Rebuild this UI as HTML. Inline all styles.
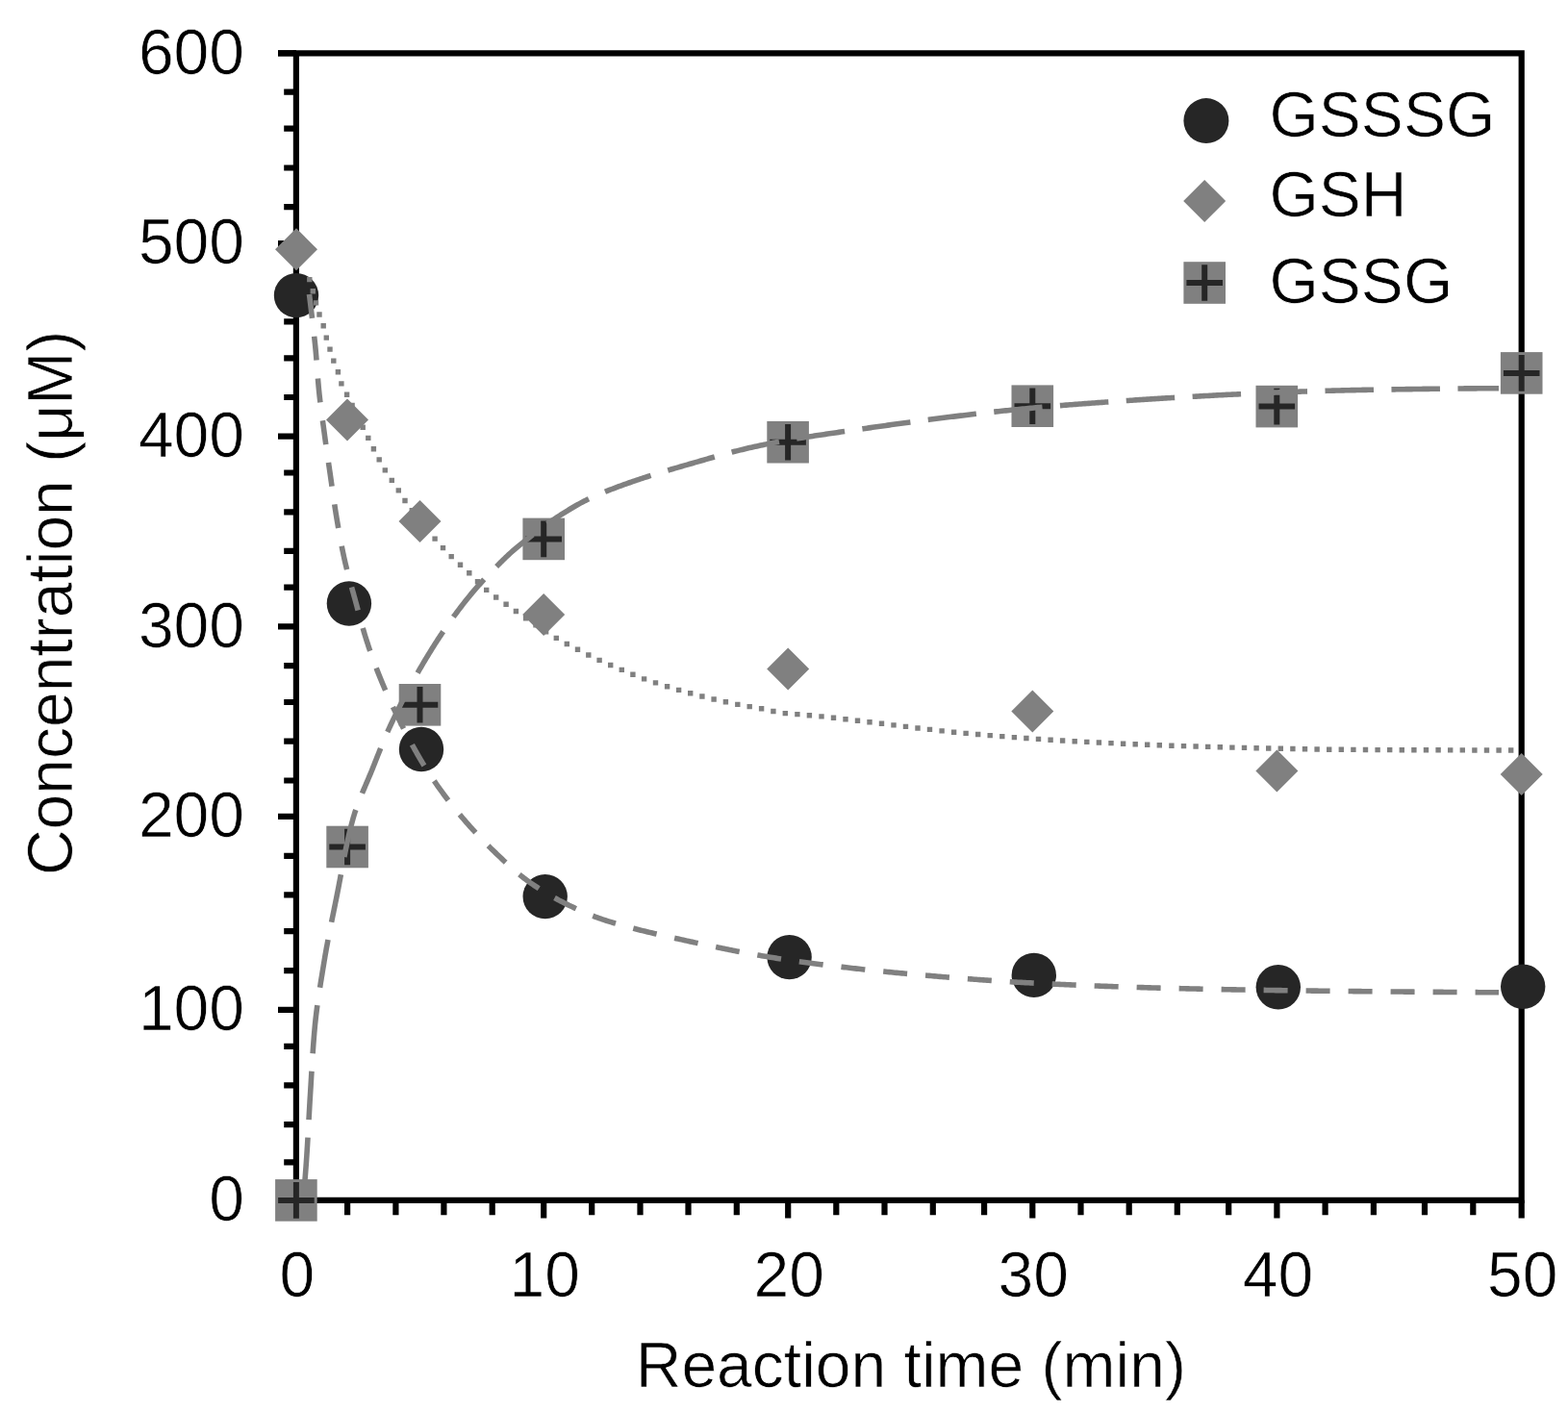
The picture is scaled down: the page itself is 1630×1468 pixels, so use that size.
<!DOCTYPE html>
<html><head><meta charset="utf-8"><title>Chart</title>
<style>html,body{margin:0;padding:0;background:#fff;width:1630px;height:1468px;overflow:hidden}svg{display:block}</style>
</head><body>
<svg width="1630" height="1468" viewBox="0 0 1630 1468">
<rect width="100%" height="100%" fill="#fff"/>
<path d="M289.0 55.3H307.9 M295.2 95.6H307.9 M295.2 133.6H307.9 M295.2 174.5H307.9 M295.2 215.1H307.9 M289.0 253.2H307.9 M295.2 293.8H307.9 M295.2 334.4H307.9 M295.2 372.3H307.9 M295.2 413.0H307.9 M289.0 453.6H307.9 M295.2 491.5H307.9 M295.2 532.3H307.9 M295.2 572.8H307.9 M295.2 610.6H307.9 M289.0 651.3H307.9 M295.2 692.1H307.9 M295.2 730.0H307.9 M295.2 770.6H307.9 M295.2 811.5H307.9 M289.0 848.9H307.9 M295.2 889.8H307.9 M295.2 930.4H307.9 M295.2 968.2H307.9 M295.2 1009.1H307.9 M289.0 1049.8H307.9 M295.2 1087.8H307.9 M295.2 1128.3H307.9 M295.2 1169.1H307.9 M295.2 1208.4H307.9 M289.0 1247.8H307.9 M307.9 1247.8V1266.4 M565.2 1247.8V1266.4 M819.2 1247.8V1266.4 M1073.3 1247.8V1266.4 M1327.4 1247.8V1266.4 M1581.7 1247.8V1266.4 M361.1 1247.8V1263.2 M411.4 1247.8V1263.2 M461.4 1247.8V1263.2 M511.7 1247.8V1263.2 M615.2 1247.8V1263.2 M665.5 1247.8V1263.2 M715.5 1247.8V1263.2 M765.8 1247.8V1263.2 M869.3 1247.8V1263.2 M919.5 1247.8V1263.2 M969.8 1247.8V1263.2 M1023.1 1247.8V1263.2 M1123.5 1247.8V1263.2 M1173.7 1247.8V1263.2 M1223.8 1247.8V1263.2 M1277.2 1247.8V1263.2 M1377.6 1247.8V1263.2 M1427.9 1247.8V1263.2 M1481 1247.8V1263.2 M1531.3 1247.8V1263.2" stroke="#000" stroke-width="6.2" fill="none" stroke-linecap="butt"/>
<path d="M307.9 1247.8V55.3H1581.7V1247.8Z" stroke="#000" stroke-width="6.2" fill="none" stroke-linejoin="miter"/>
<path d="M289 55.3H307.9" stroke="#000" stroke-width="6.2"/>
<g><circle cx="308" cy="307.1" r="23.2" fill="#262626"/><circle cx="362.9" cy="627.5" r="23.2" fill="#262626"/><circle cx="438" cy="779" r="23.2" fill="#262626"/><circle cx="566.7" cy="932.1" r="23.2" fill="#262626"/><circle cx="820.6" cy="995.1" r="23.2" fill="#262626"/><circle cx="1074.8" cy="1013.9" r="23.2" fill="#262626"/><circle cx="1328.8" cy="1026.3" r="23.2" fill="#262626"/><circle cx="1583.2" cy="1025.8" r="23.2" fill="#262626"/><path d="M308 237.3L330 259.3L308 281.3L286 259.3Z" fill="#808080"/><path d="M361 414.5L383 436.5L361 458.5L339 436.5Z" fill="#808080"/><path d="M436.5 520L458.5 542L436.5 564L414.5 542Z" fill="#808080"/><path d="M565.2 617L587.2 639L565.2 661L543.2 639Z" fill="#808080"/><path d="M819.2 673.5L841.2 695.5L819.2 717.5L797.2 695.5Z" fill="#808080"/><path d="M1073.3 717.4L1095.3 739.4L1073.3 761.4L1051.3 739.4Z" fill="#808080"/><path d="M1327.4 779.4L1349.4 801.4L1327.4 823.4L1305.4 801.4Z" fill="#808080"/><path d="M1581.7 783L1603.7 805L1581.7 827L1559.7 805Z" fill="#808080"/><rect x="286.1" y="1226.1" width="43.6" height="43.6" fill="#808080"/><path d="M289.1 1247.9H326.7M307.9 1229.1V1266.7" stroke="#262626" stroke-width="6"/><rect x="339.3" y="858.7" width="43.6" height="43.6" fill="#808080"/><path d="M342.3 880.5H379.9M361.1 861.7V899.3" stroke="#262626" stroke-width="6"/><rect x="414.7" y="711.0" width="43.6" height="43.6" fill="#808080"/><path d="M417.7 732.8H455.3M436.5 714.0V751.6" stroke="#262626" stroke-width="6"/><rect x="543.4" y="538.6" width="43.6" height="43.6" fill="#808080"/><path d="M546.4 560.4H584.0M565.2 541.6V579.2" stroke="#262626" stroke-width="6"/><rect x="797.3" y="437.9" width="43.6" height="43.6" fill="#808080"/><path d="M800.3 459.7H837.9M819.1 440.9V478.5" stroke="#262626" stroke-width="6"/><rect x="1051.5" y="400.4" width="43.6" height="43.6" fill="#808080"/><path d="M1054.5 422.2H1092.1M1073.3 403.4V441.0" stroke="#262626" stroke-width="6"/><rect x="1305.5" y="400.8" width="43.6" height="43.6" fill="#808080"/><path d="M1308.5 422.6H1346.1M1327.3 403.8V441.4" stroke="#262626" stroke-width="6"/><rect x="1559.9" y="366.1" width="43.6" height="43.6" fill="#808080"/><path d="M1562.9 387.9H1600.5M1581.7 369.1V406.7" stroke="#262626" stroke-width="6"/></g>
<path d="M321.50 306.00 L321.73 307.87 L321.96 309.75 L322.19 311.62 L322.42 313.49 L322.65 315.36 L322.87 317.24 L323.10 319.11 L323.32 320.99 L323.55 322.86 L323.77 324.73 L323.99 326.61 L324.21 328.48 L324.43 330.36 L324.64 332.23 L324.86 334.10 L325.08 335.98 L325.30 337.85 L325.52 339.73 L325.74 341.60 L325.95 343.48 L326.17 345.35 L326.38 347.23 L326.60 349.10 L326.81 350.98 L327.01 352.85 L327.21 354.73 L327.41 356.60 L327.60 358.48 L327.79 360.36 L327.97 362.24 L328.15 364.12 L328.32 366.00 L328.49 367.88 L328.64 369.76 L328.80 371.64 L328.95 373.52 L329.10 375.40 L329.24 377.28 L329.38 379.16 L329.52 381.04 L329.66 382.93 L329.80 384.81 L329.94 386.69 L330.08 388.57 L330.23 390.45 L330.37 392.33 L330.52 394.21 L330.67 396.10 L330.83 397.98 L330.99 399.86 L331.16 401.74 L331.33 403.61 L331.51 405.49 L331.70 407.37 L331.89 409.25 L332.09 411.12 L332.30 413.00 L332.52 414.87 L332.73 416.75 L332.96 418.62 L333.19 420.49 L333.42 422.37 L333.66 424.24 L333.90 426.11 L334.15 427.98 L334.40 429.85 L334.65 431.72 L334.90 433.59 L335.15 435.46 L335.41 437.33 L335.66 439.20 L335.92 441.07 L336.17 442.94 L336.43 444.81 L336.68 446.68 L336.94 448.55 L337.19 450.42 L337.44 452.29 L337.70 454.16 L337.95 456.03 L338.21 457.90 L338.47 459.77 L338.73 461.64 L338.99 463.51 L339.26 465.37 L339.52 467.24 L339.79 469.11 L340.05 470.98 L340.32 472.85 L340.59 474.71 L340.86 476.58 L341.13 478.45 L341.40 480.32 L341.67 482.18 L341.94 484.05 L342.22 485.92 L342.49 487.79 L342.76 489.65 L343.03 491.52 L343.30 493.39 L343.57 495.26 L343.84 497.12 L344.10 498.99 L344.37 500.86 L344.63 502.73 L344.89 504.60 L345.16 506.47 L345.42 508.33 L345.69 510.20 L345.95 512.07 L346.22 513.94 L346.49 515.81 L346.76 517.68 L347.03 519.54 L347.30 521.41 L347.58 523.28 L347.86 525.14 L348.14 527.01 L348.42 528.87 L348.71 530.74 L349.01 532.60 L349.30 534.47 L349.61 536.33 L349.91 538.19 L350.22 540.05 L350.53 541.91 L350.85 543.77 L351.16 545.63 L351.48 547.49 L351.80 549.35 L352.13 551.21 L352.46 553.07 L352.79 554.93 L353.13 556.78 L353.47 558.64 L353.81 560.50 L354.16 562.35 L354.51 564.20 L354.87 566.06 L355.24 567.91 L355.60 569.76 L355.98 571.61 L356.36 573.46 L356.74 575.30 L357.13 577.15 L357.53 579.00 L357.93 580.84 L358.34 582.68 L358.77 584.52 L359.20 586.36 L359.64 588.19 L360.09 590.02 L360.55 591.85 L361.01 593.68 L361.49 595.51 L361.97 597.33 L362.45 599.16 L362.94 600.98 L363.43 602.80 L363.93 604.62 L364.43 606.44 L364.93 608.26 L365.43 610.08 L365.94 611.90 L366.45 613.71 L366.96 615.53 L367.46 617.35 L367.97 619.17 L368.47 620.99 L368.98 622.80 L369.48 624.62 L369.98 626.44 L370.47 628.27 L370.96 630.09 L371.45 631.91 L371.94 633.73 L372.43 635.55 L372.92 637.38 L373.41 639.20 L373.90 641.02 L374.39 642.84 L374.89 644.66 L375.38 646.48 L375.89 648.30 L376.39 650.12 L376.90 651.94 L377.42 653.75 L377.95 655.56 L378.48 657.37 L379.02 659.18 L379.56 660.99 L380.12 662.79 L380.69 664.59 L381.26 666.39 L381.84 668.19 L382.43 669.98 L383.02 671.77 L383.62 673.56 L384.22 675.35 L384.83 677.13 L385.45 678.92 L386.07 680.70 L386.70 682.48 L387.34 684.25 L387.98 686.03 L388.63 687.80 L389.29 689.57 L389.95 691.34 L390.61 693.10 L391.29 694.86 L391.97 696.62 L392.66 698.38 L393.35 700.14 L394.05 701.89 L394.76 703.64 L395.47 705.38 L396.19 707.13 L396.91 708.87 L397.64 710.61 L398.38 712.35 L399.12 714.09 L399.86 715.82 L400.61 717.55 L401.37 719.28 L402.13 721.01 L402.89 722.73 L403.66 724.46 L404.43 726.18 L405.21 727.90 L406.00 729.61 L406.79 731.33 L407.58 733.04 L408.38 734.75 L409.18 736.46 L409.99 738.16 L410.80 739.87 L411.62 741.57 L412.44 743.27 L413.26 744.96 L414.09 746.66 L414.93 748.35 L415.77 750.04 L416.61 751.73 L417.46 753.41 L418.32 755.09 L419.17 756.78 L420.04 758.45 L420.90 760.13 L421.77 761.80 L422.65 763.48 L423.53 765.14 L424.41 766.81 L425.30 768.48 L426.19 770.14 L427.09 771.80 L427.99 773.46 L428.90 775.11 L429.81 776.76 L430.72 778.42 L431.64 780.06 L432.57 781.71 L433.49 783.35 L434.43 784.99 L435.36 786.63 L436.31 788.26 L437.26 789.89 L438.23 791.51 L439.20 793.13 L440.18 794.74 L441.17 796.35 L442.17 797.95 L443.18 799.54 L444.20 801.13 L445.22 802.72 L446.25 804.30 L447.29 805.88 L448.33 807.45 L449.39 809.01 L450.44 810.58 L451.51 812.13 L452.58 813.69 L453.66 815.24 L454.74 816.78 L455.83 818.32 L456.92 819.86 L458.02 821.39 L459.13 822.92 L460.24 824.45 L461.36 825.96 L462.49 827.48 L463.63 828.98 L464.77 830.49 L465.92 831.98 L467.07 833.48 L468.23 834.96 L469.40 836.45 L470.58 837.92 L471.76 839.39 L472.94 840.86 L474.13 842.33 L475.33 843.78 L476.53 845.24 L477.74 846.69 L478.96 848.13 L480.18 849.57 L481.40 851.01 L482.63 852.44 L483.86 853.87 L485.10 855.29 L486.35 856.71 L487.60 858.12 L488.85 859.53 L490.11 860.93 L491.38 862.33 L492.65 863.73 L493.93 865.12 L495.21 866.50 L496.50 867.88 L497.80 869.25 L499.10 870.62 L500.40 871.98 L501.71 873.34 L503.03 874.69 L504.35 876.04 L505.67 877.38 L507.00 878.72 L508.34 880.05 L509.68 881.38 L511.03 882.70 L512.38 884.02 L513.73 885.33 L515.10 886.64 L516.46 887.94 L517.83 889.24 L519.20 890.54 L520.57 891.84 L521.94 893.13 L523.32 894.43 L524.69 895.71 L526.08 897.00 L527.46 898.28 L528.86 899.55 L530.25 900.82 L531.66 902.08 L533.07 903.33 L534.49 904.57 L535.92 905.80 L537.36 907.03 L538.81 908.24 L540.26 909.44 L541.73 910.62 L543.21 911.79 L544.70 912.95 L546.21 914.09 L547.72 915.21 L549.25 916.31 L550.79 917.41 L552.34 918.49 L553.89 919.56 L555.45 920.62 L557.02 921.66 L558.60 922.70 L560.18 923.73 L561.77 924.74 L563.37 925.75 L564.98 926.74 L566.59 927.72 L568.20 928.70 L569.83 929.66 L571.46 930.61 L573.09 931.55 L574.73 932.48 L576.38 933.40 L578.04 934.31 L579.70 935.21 L581.36 936.10 L583.03 936.97 L584.71 937.84 L586.39 938.69 L588.08 939.54 L589.77 940.38 L591.46 941.21 L593.16 942.03 L594.86 942.85 L596.57 943.65 L598.28 944.45 L599.99 945.24 L601.71 946.03 L603.43 946.80 L605.16 947.56 L606.89 948.31 L608.62 949.06 L610.36 949.79 L612.10 950.51 L613.85 951.21 L615.61 951.91 L617.37 952.59 L619.13 953.27 L620.90 953.92 L622.67 954.57 L624.45 955.20 L626.24 955.81 L628.03 956.41 L629.82 956.99 L631.62 957.57 L633.41 958.14 L635.22 958.70 L637.02 959.25 L638.83 959.80 L640.64 960.33 L642.45 960.86 L644.26 961.39 L646.08 961.90 L647.89 962.41 L649.71 962.91 L651.53 963.41 L653.36 963.89 L655.18 964.38 L657.01 964.86 L658.83 965.33 L660.66 965.80 L662.49 966.26 L664.32 966.72 L666.15 967.17 L667.99 967.62 L669.82 968.06 L671.65 968.50 L673.49 968.94 L675.33 969.38 L677.16 969.81 L679.00 970.24 L680.84 970.66 L682.68 971.09 L684.52 971.51 L686.36 971.93 L688.20 972.35 L690.04 972.76 L691.88 973.18 L693.72 973.59 L695.56 974.01 L697.40 974.42 L699.24 974.83 L701.08 975.24 L702.93 975.65 L704.77 976.07 L706.61 976.48 L708.45 976.88 L710.29 977.29 L712.14 977.70 L713.98 978.11 L715.82 978.51 L717.67 978.92 L719.51 979.32 L721.35 979.72 L723.20 980.12 L725.04 980.52 L726.88 980.92 L728.73 981.32 L730.57 981.71 L732.42 982.11 L734.27 982.50 L736.11 982.89 L737.96 983.28 L739.81 983.67 L741.65 984.05 L743.50 984.44 L745.35 984.82 L747.20 985.20 L749.04 985.58 L750.89 985.96 L752.74 986.33 L754.59 986.70 L756.44 987.07 L758.29 987.44 L760.14 987.81 L762.00 988.17 L763.85 988.54 L765.70 988.90 L767.55 989.25 L769.41 989.61 L771.26 989.96 L773.11 990.31 L774.97 990.66 L776.82 991.00 L778.68 991.34 L780.54 991.68 L782.39 992.02 L784.25 992.35 L786.11 992.68 L787.97 993.01 L789.83 993.34 L791.68 993.66 L793.54 993.98 L795.40 994.29 L797.27 994.61 L799.13 994.92 L800.99 995.22 L802.85 995.53 L804.71 995.82 L806.58 996.12 L808.44 996.41 L810.31 996.70 L812.17 996.99 L814.04 997.27 L815.90 997.55 L817.77 997.82 L819.64 998.09 L821.51 998.36 L823.38 998.63 L825.24 998.89 L827.11 999.16 L828.98 999.42 L830.85 999.68 L832.72 999.93 L834.59 1000.19 L836.46 1000.44 L838.33 1000.70 L840.20 1000.95 L842.07 1001.20 L843.94 1001.44 L845.81 1001.69 L847.68 1001.93 L849.55 1002.18 L851.43 1002.42 L853.30 1002.66 L855.17 1002.89 L857.04 1003.13 L858.91 1003.36 L860.79 1003.60 L862.66 1003.83 L864.53 1004.06 L866.41 1004.28 L868.28 1004.51 L870.15 1004.74 L872.03 1004.96 L873.90 1005.18 L875.77 1005.40 L877.65 1005.62 L879.52 1005.84 L881.40 1006.05 L883.27 1006.27 L885.15 1006.48 L887.02 1006.69 L888.90 1006.90 L890.77 1007.11 L892.65 1007.32 L894.52 1007.52 L896.40 1007.73 L898.28 1007.93 L900.15 1008.13 L902.03 1008.33 L903.91 1008.53 L905.78 1008.73 L907.66 1008.92 L909.54 1009.12 L911.41 1009.31 L913.29 1009.50 L915.17 1009.69 L917.04 1009.88 L918.92 1010.07 L920.80 1010.26 L922.68 1010.44 L924.56 1010.62 L926.43 1010.81 L928.31 1010.99 L930.19 1011.17 L932.07 1011.35 L933.95 1011.53 L935.83 1011.70 L937.71 1011.88 L939.58 1012.05 L941.46 1012.23 L943.34 1012.40 L945.22 1012.57 L947.10 1012.74 L948.98 1012.91 L950.86 1013.08 L952.74 1013.24 L954.62 1013.41 L956.50 1013.58 L958.38 1013.74 L960.26 1013.91 L962.14 1014.07 L964.02 1014.23 L965.90 1014.39 L967.78 1014.56 L969.66 1014.72 L971.54 1014.88 L973.42 1015.04 L975.30 1015.20 L977.18 1015.35 L979.06 1015.51 L980.94 1015.67 L982.82 1015.82 L984.70 1015.98 L986.58 1016.13 L988.46 1016.28 L990.34 1016.44 L992.22 1016.59 L994.11 1016.74 L995.99 1016.89 L997.87 1017.04 L999.75 1017.18 L1001.63 1017.33 L1003.51 1017.48 L1005.39 1017.62 L1007.28 1017.76 L1009.16 1017.91 L1011.04 1018.05 L1012.92 1018.19 L1014.80 1018.33 L1016.68 1018.46 L1018.57 1018.60 L1020.45 1018.74 L1022.33 1018.87 L1024.21 1019.00 L1026.09 1019.14 L1027.98 1019.27 L1029.86 1019.40 L1031.74 1019.53 L1033.63 1019.65 L1035.51 1019.78 L1037.39 1019.90 L1039.27 1020.03 L1041.16 1020.15 L1043.04 1020.27 L1044.92 1020.39 L1046.81 1020.51 L1048.69 1020.63 L1050.57 1020.74 L1052.46 1020.85 L1054.34 1020.97 L1056.22 1021.08 L1058.11 1021.19 L1059.99 1021.30 L1061.88 1021.40 L1063.76 1021.51 L1065.64 1021.61 L1067.53 1021.71 L1069.41 1021.81 L1071.30 1021.91 L1073.18 1022.01 L1075.07 1022.11 L1076.95 1022.20 L1078.84 1022.30 L1080.72 1022.39 L1082.60 1022.48 L1084.49 1022.58 L1086.37 1022.67 L1088.26 1022.76 L1090.14 1022.85 L1092.03 1022.94 L1093.91 1023.03 L1095.80 1023.12 L1097.68 1023.21 L1099.57 1023.30 L1101.45 1023.39 L1103.34 1023.47 L1105.22 1023.56 L1107.11 1023.64 L1108.99 1023.73 L1110.88 1023.81 L1112.76 1023.90 L1114.65 1023.98 L1116.53 1024.06 L1118.42 1024.14 L1120.30 1024.22 L1122.19 1024.30 L1124.08 1024.38 L1125.96 1024.46 L1127.85 1024.54 L1129.73 1024.61 L1131.62 1024.69 L1133.50 1024.77 L1135.39 1024.84 L1137.27 1024.92 L1139.16 1024.99 L1141.04 1025.06 L1142.93 1025.14 L1144.82 1025.21 L1146.70 1025.28 L1148.59 1025.35 L1150.47 1025.42 L1152.36 1025.49 L1154.24 1025.56 L1156.13 1025.62 L1158.02 1025.69 L1159.90 1025.76 L1161.79 1025.82 L1163.67 1025.89 L1165.56 1025.95 L1167.45 1026.02 L1169.33 1026.08 L1171.22 1026.14 L1173.10 1026.20 L1174.99 1026.26 L1176.88 1026.32 L1178.76 1026.38 L1180.65 1026.44 L1182.53 1026.50 L1184.42 1026.56 L1186.31 1026.61 L1188.19 1026.67 L1190.08 1026.72 L1191.96 1026.78 L1193.85 1026.83 L1195.74 1026.88 L1197.62 1026.94 L1199.51 1026.99 L1201.40 1027.04 L1203.28 1027.09 L1205.17 1027.14 L1207.05 1027.19 L1208.94 1027.24 L1210.83 1027.29 L1212.71 1027.33 L1214.60 1027.38 L1216.49 1027.43 L1218.37 1027.48 L1220.26 1027.52 L1222.15 1027.57 L1224.03 1027.62 L1225.92 1027.66 L1227.81 1027.71 L1229.69 1027.75 L1231.58 1027.80 L1233.46 1027.84 L1235.35 1027.88 L1237.24 1027.93 L1239.12 1027.97 L1241.01 1028.01 L1242.90 1028.06 L1244.78 1028.10 L1246.67 1028.14 L1248.56 1028.18 L1250.44 1028.22 L1252.33 1028.26 L1254.22 1028.30 L1256.10 1028.34 L1257.99 1028.38 L1259.88 1028.42 L1261.76 1028.46 L1263.65 1028.50 L1265.54 1028.54 L1267.42 1028.57 L1269.31 1028.61 L1271.20 1028.65 L1273.08 1028.69 L1274.97 1028.72 L1276.86 1028.76 L1278.74 1028.79 L1280.63 1028.83 L1282.52 1028.86 L1284.40 1028.90 L1286.29 1028.93 L1288.18 1028.97 L1290.06 1029.00 L1291.95 1029.04 L1293.84 1029.07 L1295.72 1029.10 L1297.61 1029.13 L1299.50 1029.17 L1301.38 1029.20 L1303.27 1029.23 L1305.16 1029.26 L1307.04 1029.29 L1308.93 1029.32 L1310.82 1029.35 L1312.70 1029.38 L1314.59 1029.41 L1316.48 1029.44 L1318.36 1029.47 L1320.25 1029.50 L1322.14 1029.53 L1324.02 1029.56 L1325.91 1029.58 L1327.80 1029.61 L1329.68 1029.64 L1331.57 1029.67 L1333.46 1029.69 L1335.34 1029.72 L1337.23 1029.75 L1339.12 1029.77 L1341.01 1029.80 L1342.89 1029.82 L1344.78 1029.85 L1346.67 1029.88 L1348.55 1029.90 L1350.44 1029.93 L1352.33 1029.95 L1354.21 1029.97 L1356.10 1030.00 L1357.99 1030.02 L1359.87 1030.05 L1361.76 1030.07 L1363.65 1030.09 L1365.53 1030.12 L1367.42 1030.14 L1369.31 1030.16 L1371.19 1030.19 L1373.08 1030.21 L1374.97 1030.23 L1376.86 1030.25 L1378.74 1030.28 L1380.63 1030.30 L1382.52 1030.32 L1384.40 1030.34 L1386.29 1030.36 L1388.18 1030.38 L1390.06 1030.40 L1391.95 1030.43 L1393.84 1030.45 L1395.72 1030.47 L1397.61 1030.49 L1399.50 1030.51 L1401.38 1030.53 L1403.27 1030.55 L1405.16 1030.57 L1407.05 1030.59 L1408.93 1030.61 L1410.82 1030.63 L1412.71 1030.65 L1414.59 1030.66 L1416.48 1030.68 L1418.37 1030.70 L1420.25 1030.72 L1422.14 1030.74 L1424.03 1030.76 L1425.91 1030.78 L1427.80 1030.79 L1429.69 1030.81 L1431.58 1030.83 L1433.46 1030.85 L1435.35 1030.87 L1437.24 1030.88 L1439.12 1030.90 L1441.01 1030.92 L1442.90 1030.94 L1444.78 1030.95 L1446.67 1030.97 L1448.56 1030.99 L1450.44 1031.00 L1452.33 1031.02 L1454.22 1031.04 L1456.10 1031.05 L1457.99 1031.07 L1459.88 1031.09 L1461.77 1031.10 L1463.65 1031.12 L1465.54 1031.14 L1467.43 1031.15 L1469.31 1031.17 L1471.20 1031.18 L1473.09 1031.20 L1474.97 1031.22 L1476.86 1031.23 L1478.75 1031.25 L1480.64 1031.26 L1482.52 1031.28 L1484.41 1031.29 L1486.30 1031.31 L1488.18 1031.32 L1490.07 1031.34 L1491.96 1031.35 L1493.84 1031.37 L1495.73 1031.38 L1497.62 1031.40 L1499.50 1031.41 L1501.39 1031.43 L1503.28 1031.44 L1505.17 1031.45 L1507.05 1031.47 L1508.94 1031.48 L1510.83 1031.50 L1512.71 1031.51 L1514.60 1031.52 L1516.49 1031.54 L1518.37 1031.55 L1520.26 1031.56 L1522.15 1031.58 L1524.03 1031.59 L1525.92 1031.60 L1527.81 1031.61 L1529.70 1031.63 L1531.58 1031.64 L1533.47 1031.65 L1535.36 1031.66 L1537.24 1031.68 L1539.13 1031.69 L1541.02 1031.70 L1542.90 1031.71 L1544.79 1031.72 L1546.68 1031.73 L1548.57 1031.75 L1550.45 1031.76 L1552.34 1031.77 L1554.23 1031.78 L1556.11 1031.79 L1558.00 1031.80" stroke="#808080" stroke-width="5.6" fill="none" stroke-dasharray="25 19"/>
<path d="M319.1 287.9h5.4v5.4h-5.4zM322.6 300.0h5.4v5.4h-5.4zM325.8 312.2h5.4v5.4h-5.4zM329.3 324.3h5.4v5.4h-5.4zM333.5 336.1h5.4v5.4h-5.4zM336.6 348.4h5.4v5.4h-5.4zM340.3 360.4h5.4v5.4h-5.4zM344.1 372.4h5.4v5.4h-5.4zM348.7 384.1h5.4v5.4h-5.4zM352.2 396.2h5.4v5.4h-5.4zM357.9 407.5h5.4v5.4h-5.4zM363.4 418.8h5.4v5.4h-5.4zM368.9 430.1h5.4v5.4h-5.4zM374.5 441.5h5.4v5.4h-5.4zM380.1 452.7h5.4v5.4h-5.4zM385.7 464.0h5.4v5.4h-5.4zM391.5 475.2h5.4v5.4h-5.4zM397.6 486.2h5.4v5.4h-5.4zM404.6 496.7h5.4v5.4h-5.4zM411.6 507.2h5.4v5.4h-5.4zM418.3 517.8h5.4v5.4h-5.4zM425.6 528.1h5.4v5.4h-5.4zM433.3 538.1h5.4v5.4h-5.4zM441.3 547.8h5.4v5.4h-5.4zM449.4 557.4h5.4v5.4h-5.4zM457.8 566.9h5.4v5.4h-5.4zM466.5 575.9h5.4v5.4h-5.4zM475.8 584.5h5.4v5.4h-5.4zM485.1 593.0h5.4v5.4h-5.4zM493.8 602.1h5.4v5.4h-5.4zM503.0 610.7h5.4v5.4h-5.4zM513.0 618.3h5.4v5.4h-5.4zM523.4 625.5h5.4v5.4h-5.4zM533.7 632.8h5.4v5.4h-5.4zM543.9 640.1h5.4v5.4h-5.4zM554.3 647.2h5.4v5.4h-5.4zM564.9 654.1h5.4v5.4h-5.4zM575.6 660.7h5.4v5.4h-5.4zM586.6 666.8h5.4v5.4h-5.4zM597.8 672.6h5.4v5.4h-5.4zM609.1 678.3h5.4v5.4h-5.4zM620.4 683.7h5.4v5.4h-5.4zM632.0 688.8h5.4v5.4h-5.4zM643.6 693.7h5.4v5.4h-5.4zM655.2 698.6h5.4v5.4h-5.4zM666.9 703.2h5.4v5.4h-5.4zM678.8 707.2h5.4v5.4h-5.4zM690.9 711.0h5.4v5.4h-5.4zM702.9 714.7h5.4v5.4h-5.4zM715.0 718.1h5.4v5.4h-5.4zM727.2 721.3h5.4v5.4h-5.4zM739.4 724.3h5.4v5.4h-5.4zM751.7 727.1h5.4v5.4h-5.4zM764.1 729.7h5.4v5.4h-5.4zM776.5 731.9h5.4v5.4h-5.4zM788.9 734.1h5.4v5.4h-5.4zM801.2 736.8h5.4v5.4h-5.4zM813.6 738.9h5.4v5.4h-5.4zM826.2 739.9h5.4v5.4h-5.4zM838.7 741.0h5.4v5.4h-5.4zM851.3 742.2h5.4v5.4h-5.4zM863.8 743.6h5.4v5.4h-5.4zM876.3 745.0h5.4v5.4h-5.4zM888.8 746.5h5.4v5.4h-5.4zM901.3 748.0h5.4v5.4h-5.4zM913.8 749.6h5.4v5.4h-5.4zM926.3 751.2h5.4v5.4h-5.4zM938.8 752.7h5.4v5.4h-5.4zM951.3 754.3h5.4v5.4h-5.4zM963.8 755.7h5.4v5.4h-5.4zM976.4 757.2h5.4v5.4h-5.4zM988.9 758.5h5.4v5.4h-5.4zM1001.4 759.7h5.4v5.4h-5.4zM1014.0 760.8h5.4v5.4h-5.4zM1026.5 761.9h5.4v5.4h-5.4zM1039.1 762.9h5.4v5.4h-5.4zM1051.7 763.9h5.4v5.4h-5.4zM1064.2 764.8h5.4v5.4h-5.4zM1076.8 765.7h5.4v5.4h-5.4zM1089.4 766.5h5.4v5.4h-5.4zM1101.9 767.3h5.4v5.4h-5.4zM1114.5 768.0h5.4v5.4h-5.4zM1127.1 768.7h5.4v5.4h-5.4zM1139.7 769.3h5.4v5.4h-5.4zM1152.3 769.9h5.4v5.4h-5.4zM1164.9 770.5h5.4v5.4h-5.4zM1177.5 771.0h5.4v5.4h-5.4zM1190.0 771.6h5.4v5.4h-5.4zM1202.6 772.0h5.4v5.4h-5.4zM1215.2 772.5h5.4v5.4h-5.4zM1227.8 772.9h5.4v5.4h-5.4zM1240.4 773.3h5.4v5.4h-5.4zM1253.0 773.7h5.4v5.4h-5.4zM1265.6 774.0h5.4v5.4h-5.4zM1278.2 774.4h5.4v5.4h-5.4zM1290.8 774.7h5.4v5.4h-5.4zM1303.4 775.0h5.4v5.4h-5.4zM1316.0 775.3h5.4v5.4h-5.4zM1328.6 775.6h5.4v5.4h-5.4zM1341.2 775.8h5.4v5.4h-5.4zM1353.8 776.1h5.4v5.4h-5.4zM1366.4 776.3h5.4v5.4h-5.4zM1379.0 776.5h5.4v5.4h-5.4zM1391.6 776.6h5.4v5.4h-5.4zM1404.2 776.7h5.4v5.4h-5.4zM1416.8 776.8h5.4v5.4h-5.4zM1429.4 776.9h5.4v5.4h-5.4zM1442.0 776.9h5.4v5.4h-5.4zM1454.6 777.0h5.4v5.4h-5.4zM1467.2 777.1h5.4v5.4h-5.4zM1479.8 777.1h5.4v5.4h-5.4zM1492.4 777.1h5.4v5.4h-5.4zM1505.0 777.2h5.4v5.4h-5.4zM1517.6 777.2h5.4v5.4h-5.4zM1530.2 777.3h5.4v5.4h-5.4zM1542.8 777.3h5.4v5.4h-5.4zM1555.4 777.3h5.4v5.4h-5.4zM1568.0 777.3h5.4v5.4h-5.4z" fill="#808080"/>
<path d="M316.50 1233.00 L316.66 1231.04 L316.82 1229.08 L316.98 1227.12 L317.13 1225.16 L317.29 1223.20 L317.44 1221.24 L317.59 1219.28 L317.74 1217.32 L317.89 1215.36 L318.04 1213.40 L318.18 1211.44 L318.32 1209.48 L318.46 1207.52 L318.59 1205.55 L318.73 1203.59 L318.86 1201.63 L318.98 1199.67 L319.11 1197.71 L319.23 1195.74 L319.35 1193.78 L319.47 1191.82 L319.59 1189.86 L319.70 1187.89 L319.82 1185.93 L319.93 1183.97 L320.04 1182.01 L320.15 1180.04 L320.26 1178.08 L320.37 1176.12 L320.48 1174.15 L320.59 1172.19 L320.69 1170.23 L320.80 1168.26 L320.91 1166.30 L321.02 1164.34 L321.12 1162.37 L321.23 1160.41 L321.34 1158.45 L321.45 1156.49 L321.56 1154.52 L321.67 1152.56 L321.78 1150.60 L321.89 1148.63 L322.01 1146.67 L322.12 1144.71 L322.24 1142.75 L322.36 1140.78 L322.48 1138.82 L322.60 1136.86 L322.72 1134.90 L322.84 1132.93 L322.96 1130.97 L323.08 1129.01 L323.19 1127.05 L323.31 1125.08 L323.42 1123.12 L323.54 1121.16 L323.65 1119.19 L323.77 1117.23 L323.88 1115.27 L324.00 1113.31 L324.12 1111.34 L324.24 1109.38 L324.35 1107.42 L324.47 1105.46 L324.60 1103.49 L324.72 1101.53 L324.84 1099.57 L324.97 1097.61 L325.10 1095.65 L325.23 1093.68 L325.37 1091.72 L325.50 1089.76 L325.64 1087.80 L325.78 1085.84 L325.93 1083.88 L326.08 1081.92 L326.23 1079.96 L326.39 1078.00 L326.55 1076.04 L326.71 1074.08 L326.88 1072.12 L327.05 1070.16 L327.23 1068.20 L327.41 1066.25 L327.60 1064.29 L327.81 1062.33 L328.01 1060.38 L328.23 1058.42 L328.45 1056.47 L328.69 1054.52 L328.92 1052.57 L329.17 1050.62 L329.42 1048.67 L329.67 1046.72 L329.94 1044.77 L330.20 1042.82 L330.48 1040.87 L330.75 1038.93 L331.03 1036.98 L331.32 1035.03 L331.61 1033.09 L331.90 1031.15 L332.20 1029.20 L332.50 1027.26 L332.81 1025.32 L333.11 1023.38 L333.42 1021.43 L333.73 1019.49 L334.04 1017.55 L334.36 1015.61 L334.68 1013.67 L334.99 1011.73 L335.31 1009.79 L335.63 1007.85 L335.95 1005.91 L336.27 1003.97 L336.59 1002.03 L336.90 1000.09 L337.22 998.15 L337.55 996.21 L337.88 994.27 L338.21 992.33 L338.55 990.40 L338.89 988.46 L339.24 986.53 L339.59 984.59 L339.95 982.66 L340.31 980.72 L340.67 978.79 L341.04 976.86 L341.40 974.93 L341.78 973.00 L342.15 971.07 L342.53 969.14 L342.91 967.21 L343.29 965.28 L343.67 963.35 L344.06 961.43 L344.45 959.50 L344.83 957.57 L345.22 955.64 L345.61 953.72 L346.01 951.79 L346.40 949.86 L346.79 947.94 L347.18 946.01 L347.57 944.08 L347.97 942.16 L348.36 940.23 L348.75 938.30 L349.14 936.38 L349.53 934.45 L349.92 932.52 L350.30 930.59 L350.68 928.66 L351.06 926.73 L351.43 924.80 L351.81 922.87 L352.17 920.94 L352.54 919.01 L352.91 917.08 L353.27 915.15 L353.63 913.21 L353.99 911.28 L354.36 909.35 L354.72 907.42 L355.08 905.48 L355.44 903.55 L355.81 901.62 L356.17 899.69 L356.54 897.76 L356.91 895.82 L357.28 893.89 L357.65 891.96 L358.03 890.03 L358.41 888.11 L358.80 886.18 L359.19 884.25 L359.58 882.32 L359.98 880.40 L360.39 878.48 L360.80 876.55 L361.21 874.63 L361.64 872.71 L362.07 870.79 L362.50 868.88 L362.95 866.96 L363.40 865.05 L363.86 863.14 L364.33 861.23 L364.81 859.32 L365.30 857.42 L365.80 855.51 L366.31 853.62 L366.83 851.72 L367.36 849.83 L367.92 847.94 L368.49 846.06 L369.09 844.19 L369.72 842.32 L370.36 840.47 L371.02 838.61 L371.69 836.77 L372.39 834.93 L373.09 833.09 L373.81 831.26 L374.54 829.44 L375.28 827.61 L376.03 825.80 L376.78 823.98 L377.55 822.17 L378.31 820.36 L379.08 818.55 L379.86 816.74 L380.63 814.93 L381.41 813.13 L382.18 811.32 L382.95 809.51 L383.72 807.70 L384.48 805.89 L385.24 804.07 L385.99 802.26 L386.73 800.43 L387.46 798.61 L388.19 796.78 L388.91 794.96 L389.64 793.13 L390.36 791.30 L391.08 789.47 L391.81 787.64 L392.53 785.82 L393.26 783.99 L393.98 782.16 L394.71 780.34 L395.45 778.51 L396.18 776.69 L396.92 774.87 L397.67 773.05 L398.42 771.23 L399.18 769.42 L399.94 767.61 L400.71 765.80 L401.49 763.99 L402.28 762.19 L403.08 760.39 L403.88 758.60 L404.70 756.81 L405.53 755.03 L406.36 753.25 L407.19 751.47 L408.03 749.69 L408.88 747.91 L409.73 746.14 L410.58 744.37 L411.44 742.60 L412.30 740.83 L413.17 739.07 L414.04 737.31 L414.92 735.55 L415.80 733.79 L416.69 732.04 L417.58 730.28 L418.48 728.53 L419.38 726.79 L420.28 725.04 L421.19 723.30 L422.10 721.56 L423.02 719.82 L423.95 718.08 L424.87 716.35 L425.80 714.62 L426.74 712.89 L427.68 711.16 L428.63 709.44 L429.57 707.71 L430.53 706.00 L431.49 704.28 L432.45 702.56 L433.42 700.85 L434.39 699.14 L435.36 697.44 L436.34 695.73 L437.33 694.03 L438.32 692.33 L439.31 690.63 L440.31 688.94 L441.31 687.25 L442.32 685.56 L443.33 683.87 L444.35 682.19 L445.37 680.51 L446.39 678.83 L447.42 677.16 L448.45 675.48 L449.49 673.82 L450.54 672.15 L451.59 670.49 L452.64 668.83 L453.71 667.18 L454.77 665.52 L455.85 663.88 L456.93 662.23 L458.01 660.59 L459.10 658.96 L460.20 657.33 L461.30 655.70 L462.41 654.07 L463.52 652.45 L464.64 650.84 L465.77 649.23 L466.90 647.62 L468.04 646.01 L469.18 644.41 L470.33 642.82 L471.48 641.23 L472.64 639.64 L473.81 638.06 L474.98 636.48 L476.16 634.91 L477.35 633.34 L478.54 631.77 L479.73 630.21 L480.93 628.66 L482.14 627.11 L483.36 625.56 L484.58 624.02 L485.81 622.48 L487.04 620.95 L488.28 619.43 L489.54 617.91 L490.80 616.41 L492.07 614.91 L493.35 613.42 L494.65 611.93 L495.95 610.46 L497.25 608.99 L498.57 607.53 L499.89 606.07 L501.22 604.63 L502.55 603.18 L503.90 601.74 L505.24 600.31 L506.59 598.88 L507.95 597.46 L509.31 596.04 L510.67 594.62 L512.04 593.21 L513.41 591.80 L514.78 590.39 L516.16 588.99 L517.53 587.58 L518.91 586.18 L520.30 584.78 L521.69 583.40 L523.09 582.02 L524.50 580.65 L525.92 579.29 L527.35 577.94 L528.79 576.60 L530.25 575.28 L531.71 573.97 L533.19 572.67 L534.68 571.38 L536.17 570.11 L537.68 568.84 L539.19 567.59 L540.71 566.34 L542.24 565.11 L543.78 563.88 L545.31 562.65 L546.85 561.43 L548.39 560.21 L549.94 558.99 L551.48 557.78 L553.03 556.57 L554.59 555.36 L556.15 554.16 L557.71 552.97 L559.27 551.78 L560.84 550.60 L562.42 549.42 L564.00 548.26 L565.59 547.10 L567.18 545.94 L568.78 544.80 L570.39 543.67 L572.00 542.54 L573.62 541.43 L575.25 540.33 L576.89 539.23 L578.53 538.15 L580.17 537.08 L581.83 536.01 L583.48 534.95 L585.14 533.89 L586.80 532.84 L588.47 531.80 L590.14 530.77 L591.82 529.74 L593.50 528.73 L595.19 527.73 L596.89 526.73 L598.60 525.75 L600.31 524.79 L602.03 523.83 L603.76 522.90 L605.49 521.97 L607.24 521.07 L608.99 520.18 L610.75 519.31 L612.53 518.46 L614.31 517.62 L616.09 516.80 L617.88 515.99 L619.68 515.19 L621.48 514.41 L623.29 513.63 L625.10 512.87 L626.92 512.12 L628.74 511.38 L630.56 510.64 L632.39 509.92 L634.22 509.20 L636.06 508.49 L637.89 507.79 L639.73 507.10 L641.57 506.41 L643.42 505.73 L645.27 505.06 L647.11 504.39 L648.96 503.72 L650.82 503.06 L652.67 502.40 L654.52 501.75 L656.38 501.10 L658.24 500.45 L660.10 499.82 L661.96 499.18 L663.82 498.56 L665.69 497.94 L667.55 497.32 L669.42 496.71 L671.29 496.11 L673.17 495.50 L675.04 494.91 L676.91 494.32 L678.79 493.73 L680.67 493.14 L682.55 492.56 L684.42 491.98 L686.30 491.41 L688.19 490.84 L690.07 490.27 L691.95 489.71 L693.84 489.14 L695.72 488.58 L697.61 488.03 L699.49 487.47 L701.38 486.92 L703.27 486.37 L705.15 485.82 L707.04 485.27 L708.93 484.72 L710.82 484.17 L712.71 483.63 L714.60 483.08 L716.49 482.54 L718.37 481.99 L720.26 481.45 L722.15 480.91 L724.04 480.36 L725.93 479.82 L727.82 479.27 L729.71 478.73 L731.60 478.19 L733.49 477.64 L735.38 477.10 L737.27 476.57 L739.16 476.03 L741.06 475.49 L742.95 474.96 L744.84 474.43 L746.74 473.90 L748.63 473.38 L750.53 472.86 L752.42 472.34 L754.32 471.83 L756.22 471.32 L758.12 470.81 L760.02 470.31 L761.92 469.82 L763.83 469.32 L765.73 468.84 L767.64 468.36 L769.55 467.88 L771.46 467.41 L773.37 466.95 L775.28 466.50 L777.19 466.05 L779.11 465.60 L781.03 465.17 L782.94 464.74 L784.86 464.31 L786.79 463.89 L788.71 463.48 L790.63 463.07 L792.55 462.67 L794.48 462.27 L796.41 461.88 L798.33 461.49 L800.26 461.10 L802.19 460.72 L804.12 460.35 L806.05 459.98 L807.98 459.61 L809.92 459.25 L811.85 458.89 L813.78 458.54 L815.72 458.19 L817.65 457.84 L819.59 457.50 L821.53 457.16 L823.46 456.82 L825.40 456.50 L827.34 456.17 L829.28 455.85 L831.22 455.53 L833.16 455.22 L835.10 454.91 L837.04 454.60 L838.99 454.29 L840.93 453.99 L842.87 453.69 L844.82 453.40 L846.76 453.10 L848.70 452.81 L850.65 452.52 L852.59 452.23 L854.54 451.94 L856.48 451.66 L858.43 451.37 L860.38 451.09 L862.32 450.80 L864.27 450.52 L866.21 450.24 L868.16 449.95 L870.10 449.67 L872.05 449.39 L873.99 449.10 L875.94 448.82 L877.89 448.54 L879.83 448.25 L881.78 447.97 L883.72 447.69 L885.67 447.41 L887.61 447.13 L889.56 446.85 L891.51 446.57 L893.45 446.29 L895.40 446.01 L897.34 445.73 L899.29 445.45 L901.24 445.17 L903.18 444.89 L905.13 444.62 L907.08 444.34 L909.02 444.06 L910.97 443.79 L912.92 443.51 L914.86 443.24 L916.81 442.96 L918.76 442.69 L920.70 442.41 L922.65 442.14 L924.60 441.87 L926.55 441.60 L928.49 441.33 L930.44 441.06 L932.39 440.79 L934.34 440.52 L936.28 440.25 L938.23 439.98 L940.18 439.72 L942.13 439.45 L944.08 439.19 L946.02 438.92 L947.97 438.66 L949.92 438.40 L951.87 438.13 L953.82 437.87 L955.77 437.61 L957.72 437.35 L959.67 437.10 L961.61 436.84 L963.56 436.58 L965.51 436.33 L967.46 436.07 L969.41 435.82 L971.36 435.57 L973.31 435.32 L975.26 435.07 L977.21 434.82 L979.16 434.57 L981.11 434.32 L983.06 434.07 L985.01 433.83 L986.97 433.59 L988.92 433.34 L990.87 433.10 L992.82 432.86 L994.77 432.62 L996.72 432.38 L998.67 432.15 L1000.63 431.91 L1002.58 431.68 L1004.53 431.44 L1006.48 431.21 L1008.44 430.98 L1010.39 430.75 L1012.34 430.53 L1014.29 430.30 L1016.25 430.07 L1018.20 429.85 L1020.15 429.63 L1022.11 429.41 L1024.06 429.19 L1026.02 428.97 L1027.97 428.75 L1029.92 428.54 L1031.88 428.33 L1033.83 428.11 L1035.79 427.90 L1037.74 427.70 L1039.70 427.49 L1041.65 427.28 L1043.61 427.08 L1045.56 426.88 L1047.52 426.67 L1049.48 426.47 L1051.43 426.28 L1053.39 426.08 L1055.35 425.88 L1057.30 425.69 L1059.26 425.50 L1061.22 425.31 L1063.17 425.12 L1065.13 424.93 L1067.09 424.74 L1069.04 424.55 L1071.00 424.37 L1072.96 424.19 L1074.92 424.01 L1076.87 423.83 L1078.83 423.65 L1080.79 423.47 L1082.75 423.29 L1084.71 423.12 L1086.67 422.95 L1088.62 422.77 L1090.58 422.60 L1092.54 422.44 L1094.50 422.27 L1096.46 422.10 L1098.42 421.94 L1100.38 421.78 L1102.34 421.61 L1104.30 421.45 L1106.26 421.30 L1108.22 421.14 L1110.18 420.98 L1112.14 420.83 L1114.10 420.68 L1116.06 420.52 L1118.02 420.37 L1119.98 420.23 L1121.94 420.08 L1123.90 419.93 L1125.86 419.78 L1127.82 419.64 L1129.78 419.49 L1131.74 419.35 L1133.70 419.20 L1135.66 419.06 L1137.62 418.92 L1139.59 418.77 L1141.55 418.63 L1143.51 418.49 L1145.47 418.35 L1147.43 418.21 L1149.39 418.07 L1151.35 417.93 L1153.31 417.79 L1155.27 417.65 L1157.24 417.51 L1159.20 417.38 L1161.16 417.24 L1163.12 417.10 L1165.08 416.97 L1167.04 416.83 L1169.00 416.70 L1170.97 416.57 L1172.93 416.43 L1174.89 416.30 L1176.85 416.17 L1178.81 416.04 L1180.77 415.91 L1182.74 415.78 L1184.70 415.65 L1186.66 415.52 L1188.62 415.39 L1190.58 415.27 L1192.55 415.14 L1194.51 415.02 L1196.47 414.89 L1198.43 414.77 L1200.39 414.64 L1202.36 414.52 L1204.32 414.39 L1206.28 414.27 L1208.24 414.15 L1210.21 414.03 L1212.17 413.91 L1214.13 413.79 L1216.09 413.67 L1218.06 413.55 L1220.02 413.44 L1221.98 413.32 L1223.94 413.20 L1225.91 413.09 L1227.87 412.97 L1229.83 412.86 L1231.79 412.74 L1233.76 412.63 L1235.72 412.52 L1237.68 412.41 L1239.65 412.30 L1241.61 412.19 L1243.57 412.08 L1245.54 411.97 L1247.50 411.86 L1249.46 411.75 L1251.43 411.64 L1253.39 411.54 L1255.35 411.43 L1257.32 411.33 L1259.28 411.22 L1261.24 411.12 L1263.21 411.02 L1265.17 410.91 L1267.13 410.81 L1269.10 410.71 L1271.06 410.61 L1273.02 410.51 L1274.99 410.41 L1276.95 410.32 L1278.91 410.22 L1280.88 410.12 L1282.84 410.03 L1284.81 409.93 L1286.77 409.83 L1288.73 409.74 L1290.70 409.65 L1292.66 409.55 L1294.62 409.46 L1296.59 409.36 L1298.55 409.27 L1300.52 409.18 L1302.48 409.09 L1304.44 409.00 L1306.41 408.91 L1308.37 408.82 L1310.34 408.73 L1312.30 408.65 L1314.26 408.56 L1316.23 408.47 L1318.19 408.39 L1320.16 408.31 L1322.12 408.22 L1324.09 408.14 L1326.05 408.06 L1328.02 407.98 L1329.98 407.90 L1331.94 407.83 L1333.91 407.75 L1335.87 407.67 L1337.84 407.60 L1339.80 407.53 L1341.77 407.46 L1343.73 407.39 L1345.70 407.32 L1347.66 407.25 L1349.63 407.19 L1351.59 407.12 L1353.56 407.06 L1355.52 407.00 L1357.49 406.94 L1359.45 406.88 L1361.42 406.82 L1363.38 406.76 L1365.35 406.70 L1367.31 406.65 L1369.28 406.59 L1371.25 406.53 L1373.21 406.48 L1375.18 406.42 L1377.14 406.37 L1379.11 406.31 L1381.07 406.26 L1383.04 406.21 L1385.00 406.15 L1386.97 406.10 L1388.93 406.05 L1390.90 406.00 L1392.86 405.95 L1394.83 405.90 L1396.80 405.85 L1398.76 405.80 L1400.73 405.76 L1402.69 405.71 L1404.66 405.66 L1406.62 405.62 L1408.59 405.58 L1410.55 405.53 L1412.52 405.49 L1414.49 405.45 L1416.45 405.41 L1418.42 405.37 L1420.38 405.33 L1422.35 405.29 L1424.31 405.25 L1426.28 405.21 L1428.25 405.18 L1430.21 405.14 L1432.18 405.11 L1434.14 405.08 L1436.11 405.05 L1438.08 405.01 L1440.04 404.98 L1442.01 404.95 L1443.97 404.92 L1445.94 404.89 L1447.90 404.86 L1449.87 404.83 L1451.84 404.81 L1453.80 404.78 L1455.77 404.75 L1457.73 404.72 L1459.70 404.69 L1461.67 404.66 L1463.63 404.63 L1465.60 404.60 L1467.56 404.58 L1469.53 404.55 L1471.50 404.52 L1473.46 404.49 L1475.43 404.47 L1477.39 404.44 L1479.36 404.41 L1481.33 404.39 L1483.29 404.36 L1485.26 404.33 L1487.22 404.31 L1489.19 404.28 L1491.15 404.26 L1493.12 404.24 L1495.09 404.21 L1497.05 404.19 L1499.02 404.16 L1500.98 404.14 L1502.95 404.12 L1504.92 404.10 L1506.88 404.08 L1508.85 404.05 L1510.81 404.03 L1512.78 404.01 L1514.75 403.99 L1516.71 403.97 L1518.68 403.96 L1520.64 403.94 L1522.61 403.92 L1524.58 403.90 L1526.54 403.89 L1528.51 403.87 L1530.47 403.85 L1532.44 403.84 L1534.41 403.83 L1536.37 403.81 L1538.34 403.80 L1540.31 403.79 L1542.27 403.77 L1544.24 403.76 L1546.20 403.75 L1548.17 403.74 L1550.14 403.73 L1552.10 403.72 L1554.07 403.71 L1556.03 403.71 L1558.00 403.70" stroke="#808080" stroke-width="5.6" fill="none" stroke-dasharray="50.5 18.5"/>
<text x="254" y="1269.0" font-family="Liberation Sans, Arial, sans-serif" stroke="#fff" stroke-width="0.7" font-size="66" text-anchor="end">0</text>
<text x="254" y="1071.0" font-family="Liberation Sans, Arial, sans-serif" stroke="#fff" stroke-width="0.7" font-size="66" text-anchor="end">100</text>
<text x="254" y="870.1" font-family="Liberation Sans, Arial, sans-serif" stroke="#fff" stroke-width="0.7" font-size="66" text-anchor="end">200</text>
<text x="254" y="672.5" font-family="Liberation Sans, Arial, sans-serif" stroke="#fff" stroke-width="0.7" font-size="66" text-anchor="end">300</text>
<text x="254" y="474.8" font-family="Liberation Sans, Arial, sans-serif" stroke="#fff" stroke-width="0.7" font-size="66" text-anchor="end">400</text>
<text x="254" y="274.4" font-family="Liberation Sans, Arial, sans-serif" stroke="#fff" stroke-width="0.7" font-size="66" text-anchor="end">500</text>
<text x="254" y="76.5" font-family="Liberation Sans, Arial, sans-serif" stroke="#fff" stroke-width="0.7" font-size="66" text-anchor="end">600</text>
<text x="308.9" y="1347.5" font-family="Liberation Sans, Arial, sans-serif" stroke="#fff" stroke-width="0.7" font-size="66" text-anchor="middle">0</text>
<text x="566.2" y="1347.5" font-family="Liberation Sans, Arial, sans-serif" stroke="#fff" stroke-width="0.7" font-size="66" text-anchor="middle">10</text>
<text x="820.2" y="1347.5" font-family="Liberation Sans, Arial, sans-serif" stroke="#fff" stroke-width="0.7" font-size="66" text-anchor="middle">20</text>
<text x="1074.3" y="1347.5" font-family="Liberation Sans, Arial, sans-serif" stroke="#fff" stroke-width="0.7" font-size="66" text-anchor="middle">30</text>
<text x="1328.4" y="1347.5" font-family="Liberation Sans, Arial, sans-serif" stroke="#fff" stroke-width="0.7" font-size="66" text-anchor="middle">40</text>
<text x="1582.7" y="1347.5" font-family="Liberation Sans, Arial, sans-serif" stroke="#fff" stroke-width="0.7" font-size="66" text-anchor="middle">50</text>
<text x="946.8" y="1441.7" font-family="Liberation Sans, Arial, sans-serif" stroke="#fff" stroke-width="0.7" font-size="66" text-anchor="middle">Reaction time (min)</text>
<text transform="translate(75.3 627) rotate(-90)" x="0" y="0" font-family="Liberation Sans, Arial, sans-serif" stroke="#fff" stroke-width="0.7" font-size="66" text-anchor="middle">Concentration (μM)</text>
<circle cx="1253.9" cy="125.6" r="23.5" fill="#262626"/>
<path d="M1252.2 187L1274.2 209L1252.2 231L1230.2 209Z" fill="#808080"/>
<rect x="1230.4" y="272.2" width="43.6" height="43.6" fill="#808080"/><path d="M1233.4 294H1271.0M1252.2 275.2V312.8" stroke="#262626" stroke-width="6"/>
<text x="1319.5" y="142.2" font-family="Liberation Sans, Arial, sans-serif" stroke="#fff" stroke-width="0.7" font-size="66">GSSSG</text>
<text x="1319.5" y="224.7" font-family="Liberation Sans, Arial, sans-serif" stroke="#fff" stroke-width="0.7" font-size="66">GSH</text>
<text x="1319.5" y="314.5" font-family="Liberation Sans, Arial, sans-serif" stroke="#fff" stroke-width="0.7" font-size="66">GSSG</text>
</svg>
</body></html>
